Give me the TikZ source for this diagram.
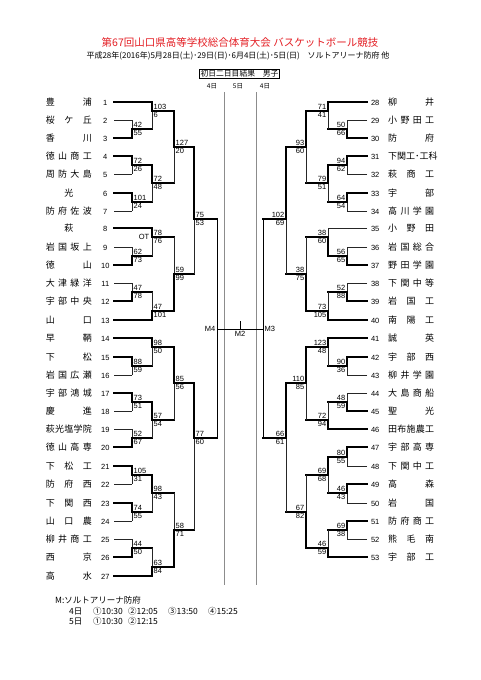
\documentclass[tikz,border=0pt]{standalone}
\usepackage{fontspec}
\setmainfont{Noto Sans CJK JP}
\newfontfamily\numfont{Liberation Sans}
\usepackage{tikz}
\usetikzlibrary{positioning}

\definecolor{titlered}{RGB}{228,30,36}

\newcommand{\tname}[1]{\hbox to 46pt{#1}}
\newcommand{\tno}[1]{{\numfont\fontsize{7.5}{8}\selectfont #1}}
% left bout: x, next x, y top, y out, y bottom, top style, bottom style, top score, bottom score
\newcommand{\lbout}[9]{%
  \draw[#6] (#1,#3) -- (#1,#4);
  \draw[#7] (#1,#4) -- (#1,#5);
  \draw[win] (#1,#4) -- (#2,#4);
  \node[score, anchor=base west] (s#1-#4a) at (#1+1.5,#4-1.5) {#8};
  \node[score, anchor=north west] (s#1-#4b) at (#1+1.5,#4+1.5) {#9};}
% right bout, same order
\newcommand{\rbout}[9]{%
  \draw[#6] (#1,#3) -- (#1,#4);
  \draw[#7] (#1,#4) -- (#1,#5);
  \draw[win] (#1,#4) -- (#2,#4);
  \node[score, anchor=base east] (s#1-#4a) at (#1-1.5,#4-1.5) {#8};
  \node[score, anchor=north east] (s#1-#4b) at (#1-1.5,#4+1.5) {#9};}

\begin{document}
\begin{tikzpicture}[x=1pt, y=-1pt,
  win/.style={line width=1.6pt, line cap=rect},
  lose/.style={line width=0.5pt, black!85},
  day/.style={line width=0.5pt, black!45},
  score/.style={inner sep=0pt, font=\numfont\fontsize{7.5}{8}\selectfont},
  lteam/.style={anchor=east, inner sep=0pt, font=\fontsize{9}{10}\selectfont},
  rteam/.style={anchor=west, inner sep=0pt, font=\fontsize{9}{10}\selectfont},
  small/.style={inner sep=0pt, font=\fontsize{8.5}{10}\selectfont}
]
  \fill[white] (0,0) rectangle (481,680);
  \useasboundingbox (0,0) rectangle (481,680);

  % heading
  \node[text=titlered, font=\fontsize{10.5}{12}\selectfont] (title) at (240,42)
    {第67回山口県高等学校総合体育大会 バスケットボール競技};
  \node[font=\fontsize{8}{10}\selectfont] (sub) at (238,56)
    {平成28年(2016年)5月28日(土)･29日(日)･6月4日(土)･5日(日)　ソルトアリーナ防府 他};
  \node[draw, line width=0.6pt, inner xsep=1pt, inner ysep=1pt,
        font=\fontsize{7.8}{9}\selectfont] (res) at (239.5,73.5) {初日二日目結果　男子};
  \node[inner sep=0pt, font=\fontsize{6.5}{8}\selectfont] (d1) at (212,86) {4日};
  \node[inner sep=0pt, font=\fontsize{6.5}{8}\selectfont] (d2) at (238,86) {5日};
  \node[inner sep=0pt, font=\fontsize{6.5}{8}\selectfont] (d3) at (265,86) {4日};
  \draw[day] (224,92) -- (224,585);
  \draw[day] (256,92) -- (256,585);

  % left teams
  \node[lteam] (t1) at (119,102) {\tname{豊\hfill 浦}\makebox[27pt]{\tno{1}}};
  \node[lteam] (t2) at (119,120) {\tname{桜\hfill ケ\hfill 丘}\makebox[27pt]{\tno{2}}};
  \node[lteam] (t3) at (119,138) {\tname{香\hfill 川}\makebox[27pt]{\tno{3}}};
  \node[lteam] (t4) at (119,156) {\tname{徳\hfill 山\hfill 商\hfill 工}\makebox[27pt]{\tno{4}}};
  \node[lteam] (t5) at (119,174) {\tname{周\hfill 防\hfill 大\hfill 島}\makebox[27pt]{\tno{5}}};
  \node[lteam] (t6) at (119,193) {\tname{\hfill 光\hfill}\makebox[27pt]{\tno{6}}};
  \node[lteam] (t7) at (119,211) {\tname{防\hfill 府\hfill 佐\hfill 波}\makebox[27pt]{\tno{7}}};
  \node[lteam] (t8) at (119,228) {\tname{\hfill 萩\hfill}\makebox[27pt]{\tno{8}}};
  \node[lteam] (t9) at (119,247) {\tname{岩\hfill 国\hfill 坂\hfill 上}\makebox[27pt]{\tno{9}}};
  \node[lteam] (t10) at (119,265) {\tname{徳\hfill 山}\makebox[27pt]{\tno{10}}};
  \node[lteam] (t11) at (119,283) {\tname{大\hfill 津\hfill 緑\hfill 洋}\makebox[27pt]{\tno{11}}};
  \node[lteam] (t12) at (119,301) {\tname{宇\hfill 部\hfill 中\hfill 央}\makebox[27pt]{\tno{12}}};
  \node[lteam] (t13) at (119,320) {\tname{山\hfill 口}\makebox[27pt]{\tno{13}}};
  \node[lteam] (t14) at (119,338) {\tname{早\hfill 鞆}\makebox[27pt]{\tno{14}}};
  \node[lteam] (t15) at (119,357) {\tname{下\hfill 松}\makebox[27pt]{\tno{15}}};
  \node[lteam] (t16) at (119,375) {\tname{岩\hfill 国\hfill 広\hfill 瀬}\makebox[27pt]{\tno{16}}};
  \node[lteam] (t17) at (119,393) {\tname{宇\hfill 部\hfill 鴻\hfill 城}\makebox[27pt]{\tno{17}}};
  \node[lteam] (t18) at (119,411) {\tname{慶\hfill 進}\makebox[27pt]{\tno{18}}};
  \node[lteam] (t19) at (119,429) {\tname{萩\hfill 光\hfill 塩\hfill 学\hfill 院}\makebox[27pt]{\tno{19}}};
  \node[lteam] (t20) at (119,447) {\tname{徳\hfill 山\hfill 高\hfill 専}\makebox[27pt]{\tno{20}}};
  \node[lteam] (t21) at (119,466) {\tname{下\hfill 松\hfill 工}\makebox[27pt]{\tno{21}}};
  \node[lteam] (t22) at (119,484) {\tname{防\hfill 府\hfill 西}\makebox[27pt]{\tno{22}}};
  \node[lteam] (t23) at (119,503) {\tname{下\hfill 関\hfill 西}\makebox[27pt]{\tno{23}}};
  \node[lteam] (t24) at (119,521) {\tname{山\hfill 口\hfill 農}\makebox[27pt]{\tno{24}}};
  \node[lteam] (t25) at (119,539) {\tname{柳\hfill 井\hfill 商\hfill 工}\makebox[27pt]{\tno{25}}};
  \node[lteam] (t26) at (119,557) {\tname{西\hfill 京}\makebox[27pt]{\tno{26}}};
  \node[lteam] (t27) at (119,576) {\tname{高\hfill 水}\makebox[27pt]{\tno{27}}};

  % right teams
  \node[rteam] (t28) at (368,102) {\makebox[14pt]{\tno{28}}\hspace{6pt}\tname{柳\hfill 井}};
  \node[rteam] (t29) at (368,120) {\makebox[14pt]{\tno{29}}\hspace{6pt}\tname{小\hfill 野\hfill 田\hfill 工}};
  \node[rteam] (t30) at (368,138) {\makebox[14pt]{\tno{30}}\hspace{6pt}\tname{防\hfill 府}};
  \node[rteam] (t31) at (368,156) {\makebox[14pt]{\tno{31}}\hspace{6pt}\tname{下\hfill 関\hfill 工･工\hfill 科}};
  \node[rteam] (t32) at (368,174) {\makebox[14pt]{\tno{32}}\hspace{6pt}\tname{萩\hfill 商\hfill 工}};
  \node[rteam] (t33) at (368,193) {\makebox[14pt]{\tno{33}}\hspace{6pt}\tname{宇\hfill 部}};
  \node[rteam] (t34) at (368,211) {\makebox[14pt]{\tno{34}}\hspace{6pt}\tname{高\hfill 川\hfill 学\hfill 園}};
  \node[rteam] (t35) at (368,228) {\makebox[14pt]{\tno{35}}\hspace{6pt}\tname{小\hfill 野\hfill 田}};
  \node[rteam] (t36) at (368,247) {\makebox[14pt]{\tno{36}}\hspace{6pt}\tname{岩\hfill 国\hfill 総\hfill 合}};
  \node[rteam] (t37) at (368,265) {\makebox[14pt]{\tno{37}}\hspace{6pt}\tname{野\hfill 田\hfill 学\hfill 園}};
  \node[rteam] (t38) at (368,283) {\makebox[14pt]{\tno{38}}\hspace{6pt}\tname{下\hfill 関\hfill 中\hfill 等}};
  \node[rteam] (t39) at (368,301) {\makebox[14pt]{\tno{39}}\hspace{6pt}\tname{岩\hfill 国\hfill 工}};
  \node[rteam] (t40) at (368,320) {\makebox[14pt]{\tno{40}}\hspace{6pt}\tname{南\hfill 陽\hfill 工}};
  \node[rteam] (t41) at (368,338) {\makebox[14pt]{\tno{41}}\hspace{6pt}\tname{誠\hfill 英}};
  \node[rteam] (t42) at (368,357) {\makebox[14pt]{\tno{42}}\hspace{6pt}\tname{宇\hfill 部\hfill 西}};
  \node[rteam] (t43) at (368,375) {\makebox[14pt]{\tno{43}}\hspace{6pt}\tname{柳\hfill 井\hfill 学\hfill 園}};
  \node[rteam] (t44) at (368,393) {\makebox[14pt]{\tno{44}}\hspace{6pt}\tname{大\hfill 島\hfill 商\hfill 船}};
  \node[rteam] (t45) at (368,411) {\makebox[14pt]{\tno{45}}\hspace{6pt}\tname{聖\hfill 光}};
  \node[rteam] (t46) at (368,429) {\makebox[14pt]{\tno{46}}\hspace{6pt}\tname{田\hfill 布\hfill 施\hfill 農\hfill 工}};
  \node[rteam] (t47) at (368,447) {\makebox[14pt]{\tno{47}}\hspace{6pt}\tname{宇\hfill 部\hfill 高\hfill 専}};
  \node[rteam] (t48) at (368,466) {\makebox[14pt]{\tno{48}}\hspace{6pt}\tname{下\hfill 関\hfill 中\hfill 工}};
  \node[rteam] (t49) at (368,484) {\makebox[14pt]{\tno{49}}\hspace{6pt}\tname{高\hfill 森}};
  \node[rteam] (t50) at (368,503) {\makebox[14pt]{\tno{50}}\hspace{6pt}\tname{岩\hfill 国}};
  \node[rteam] (t51) at (368,521) {\makebox[14pt]{\tno{51}}\hspace{6pt}\tname{防\hfill 府\hfill 商\hfill 工}};
  \node[rteam] (t52) at (368,539) {\makebox[14pt]{\tno{52}}\hspace{6pt}\tname{熊\hfill 毛\hfill 南}};
  \node[rteam] (t53) at (368,557) {\makebox[14pt]{\tno{53}}\hspace{6pt}\tname{宇\hfill 部\hfill 工}};

  % entry lines, left
  \draw[win] ([xshift=-5pt]t1.east) -- (152,102);
  \draw[lose] ([xshift=-5pt]t2.east) -- (132,120);
  \draw[win] ([xshift=-5pt]t3.east) -- (132,138);
  \draw[win] ([xshift=-5pt]t4.east) -- (132,156);
  \draw[lose] ([xshift=-5pt]t5.east) -- (132,174);
  \draw[win] ([xshift=-5pt]t6.east) -- (132,193);
  \draw[lose] ([xshift=-5pt]t7.east) -- (132,211);
  \draw[win] ([xshift=-5pt]t8.east) -- (152,228);
  \draw[lose] ([xshift=-5pt]t9.east) -- (132,247);
  \draw[win] ([xshift=-5pt]t10.east) -- (132,265);
  \draw[lose] ([xshift=-5pt]t11.east) -- (132,283);
  \draw[win] ([xshift=-5pt]t12.east) -- (132,301);
  \draw[win] ([xshift=-5pt]t13.east) -- (152,320);
  \draw[win] ([xshift=-5pt]t14.east) -- (152,338);
  \draw[win] ([xshift=-5pt]t15.east) -- (132,357);
  \draw[lose] ([xshift=-5pt]t16.east) -- (132,375);
  \draw[win] ([xshift=-5pt]t17.east) -- (132,393);
  \draw[lose] ([xshift=-5pt]t18.east) -- (132,411);
  \draw[lose] ([xshift=-5pt]t19.east) -- (132,429);
  \draw[win] ([xshift=-5pt]t20.east) -- (132,447);
  \draw[win] ([xshift=-5pt]t21.east) -- (132,466);
  \draw[lose] ([xshift=-5pt]t22.east) -- (132,484);
  \draw[win] ([xshift=-5pt]t23.east) -- (132,503);
  \draw[lose] ([xshift=-5pt]t24.east) -- (132,521);
  \draw[lose] ([xshift=-5pt]t25.east) -- (132,539);
  \draw[win] ([xshift=-5pt]t26.east) -- (132,557);
  \draw[win] ([xshift=-5pt]t27.east) -- (152,576);

  % entry lines, right
  \draw[win] ([xshift=-1pt]t28.west) -- (328,102);
  \draw[lose] ([xshift=-1pt]t29.west) -- (347,120);
  \draw[win] ([xshift=-1pt]t30.west) -- (347,138);
  \draw[win] ([xshift=-1pt]t31.west) -- (347,156);
  \draw[lose] ([xshift=-1pt]t32.west) -- (347,174);
  \draw[win] ([xshift=-1pt]t33.west) -- (347,193);
  \draw[lose] ([xshift=-1pt]t34.west) -- (347,211);
  \draw[lose] ([xshift=-1pt]t35.west) -- (328,228);
  \draw[lose] ([xshift=-1pt]t36.west) -- (347,247);
  \draw[win] ([xshift=-1pt]t37.west) -- (347,265);
  \draw[lose] ([xshift=-1pt]t38.west) -- (347,283);
  \draw[win] ([xshift=-1pt]t39.west) -- (347,301);
  \draw[win] ([xshift=-1pt]t40.west) -- (328,320);
  \draw[win] ([xshift=-1pt]t41.west) -- (328,338);
  \draw[win] ([xshift=-1pt]t42.west) -- (347,357);
  \draw[lose] ([xshift=-1pt]t43.west) -- (347,375);
  \draw[lose] ([xshift=-1pt]t44.west) -- (347,393);
  \draw[win] ([xshift=-1pt]t45.west) -- (347,411);
  \draw[win] ([xshift=-1pt]t46.west) -- (328,429);
  \draw[win] ([xshift=-1pt]t47.west) -- (347,447);
  \draw[lose] ([xshift=-1pt]t48.west) -- (347,466);
  \draw[win] ([xshift=-1pt]t49.west) -- (347,484);
  \draw[lose] ([xshift=-1pt]t50.west) -- (347,503);
  \draw[win] ([xshift=-1pt]t51.west) -- (347,521);
  \draw[lose] ([xshift=-1pt]t52.west) -- (347,539);
  \draw[win] ([xshift=-1pt]t53.west) -- (328,557);

  % left bouts
  \lbout{132}{152}{120}{129}{138}{lose}{win}{42}{55}
  \lbout{152}{174}{102}{111}{129}{win}{lose}{103}{6}
  \lbout{132}{152}{156}{165}{174}{win}{lose}{72}{26}
  \lbout{132}{152}{193}{202}{211}{win}{lose}{101}{24}
  \lbout{152}{174}{165}{183}{202}{win}{lose}{72}{48}
  \lbout{174}{194}{111}{147}{183}{win}{lose}{127}{20}
  \lbout{132}{152}{247}{256}{265}{lose}{win}{62}{73}
  \lbout{152}{174}{228}{237}{256}{win}{lose}{78}{76}
  \node[score, anchor=east] (ot) at (149.5,237) {OT};
  \lbout{132}{152}{283}{292}{301}{lose}{win}{47}{78}
  \lbout{152}{174}{292}{311}{320}{lose}{win}{47}{101}
  \lbout{174}{194}{237}{274}{311}{lose}{win}{59}{99}
  \lbout{194}{217}{147}{219}{274}{win}{lose}{75}{53}
  \lbout{132}{152}{357}{366}{375}{win}{lose}{88}{59}
  \lbout{152}{174}{338}{347}{366}{win}{lose}{98}{50}
  \lbout{132}{152}{393}{402}{411}{win}{lose}{73}{51}
  \lbout{132}{152}{429}{438}{447}{lose}{win}{52}{67}
  \lbout{152}{174}{402}{420}{438}{win}{lose}{57}{54}
  \lbout{174}{194}{347}{383}{420}{win}{lose}{85}{56}
  \lbout{132}{152}{466}{475}{484}{win}{lose}{105}{31}
  \lbout{132}{152}{503}{512}{521}{win}{lose}{74}{55}
  \lbout{152}{174}{475}{493}{512}{win}{lose}{98}{43}
  \lbout{132}{152}{539}{548}{557}{lose}{win}{44}{50}
  \lbout{152}{174}{548}{567}{576}{lose}{win}{63}{84}
  \lbout{174}{194}{493}{530}{567}{lose}{win}{58}{71}
  \lbout{194}{217}{383}{438}{530}{win}{lose}{77}{60}

  % right bouts
  \rbout{347}{328}{120}{129}{138}{lose}{win}{50}{66}
  \rbout{328}{306}{102}{111}{129}{win}{lose}{71}{41}
  \rbout{347}{328}{156}{165}{174}{win}{lose}{94}{62}
  \rbout{347}{328}{193}{202}{211}{win}{lose}{64}{54}
  \rbout{328}{306}{165}{183}{202}{win}{lose}{79}{51}
  \rbout{306}{286}{111}{147}{183}{win}{lose}{93}{60}
  \rbout{347}{328}{247}{256}{265}{lose}{win}{56}{65}
  \rbout{328}{306}{228}{237}{256}{lose}{win}{38}{60}
  \rbout{347}{328}{283}{292}{301}{lose}{win}{52}{88}
  \rbout{328}{306}{292}{311}{320}{lose}{win}{73}{105}
  \rbout{306}{286}{237}{274}{311}{lose}{win}{38}{75}
  \rbout{286}{263}{147}{219}{274}{win}{lose}{102}{69}
  \rbout{347}{328}{357}{366}{375}{win}{lose}{90}{36}
  \rbout{328}{306}{338}{347}{366}{win}{lose}{123}{48}
  \rbout{347}{328}{393}{402}{411}{lose}{win}{48}{59}
  \rbout{328}{306}{402}{420}{429}{lose}{win}{72}{94}
  \rbout{306}{286}{347}{383}{420}{win}{lose}{110}{85}
  \rbout{347}{328}{447}{457}{466}{win}{lose}{80}{55}
  \rbout{347}{328}{484}{493}{503}{win}{lose}{46}{43}
  \rbout{328}{306}{457}{475}{493}{win}{lose}{69}{68}
  \rbout{347}{328}{521}{530}{539}{win}{lose}{69}{38}
  \rbout{328}{306}{530}{548}{557}{lose}{win}{46}{59}
  \rbout{306}{286}{475}{512}{548}{lose}{win}{67}{82}
  \rbout{286}{263}{383}{438}{512}{win}{lose}{66}{61}

  % final rounds
  \draw[lose, black] (217,219) -- (217,438);
  \draw[lose, black] (263,219) -- (263,438);
  \draw[lose, black] (217,329) -- (263,329);
  \draw[lose, black] (240,321) -- (240,329);
  \node[score, anchor=east] (m4) at (215.5,329) {M4};
  \node[score, anchor=west] (m3) at (264.5,329) {M3};
  \node[score, anchor=north] (m2) at (240,331) {M2};

  % venue and times
  \node[small, anchor=west] (venue) at (55,600) {M:ソルトアリーナ防府};
  \node[small, anchor=west] (day4) at (69,611)
    {\makebox[24pt][l]{4日}\makebox[35pt][l]{①10:30}\makebox[40pt][l]{②12:05}\makebox[40pt][l]{③13:50}④15:25};
  \node[small, anchor=west] (day5) at (69,621)
    {\makebox[24pt][l]{5日}\makebox[35pt][l]{①10:30}②12:15};
\end{tikzpicture}
\end{document}
